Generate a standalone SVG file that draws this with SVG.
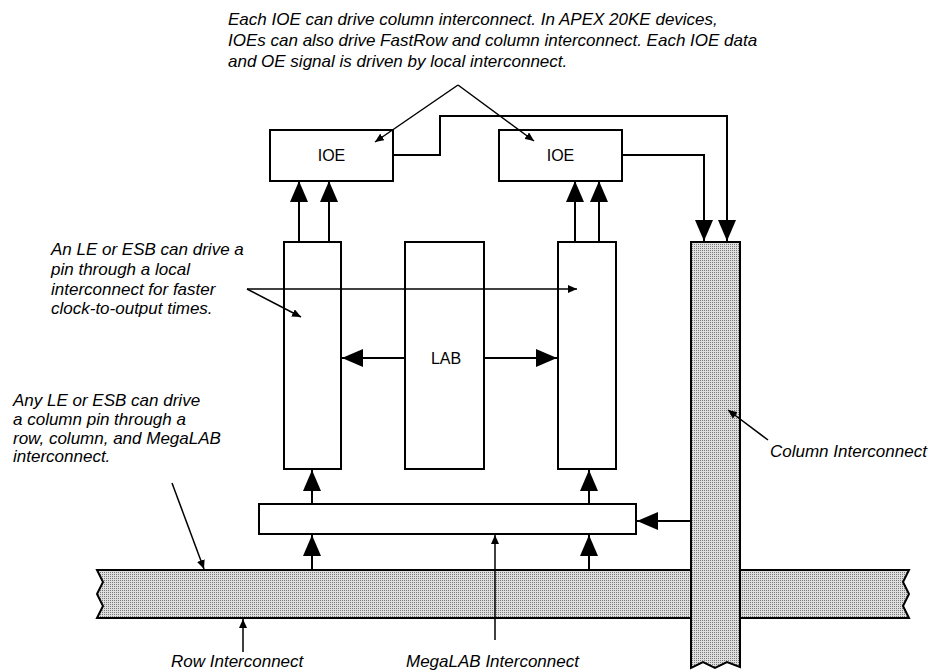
<svg xmlns="http://www.w3.org/2000/svg" width="935" height="671" viewBox="0 0 935 671">
<style>
.box{fill:#fff;stroke:#000;stroke-width:2}
.shade{fill:url(#dots);stroke:#000;stroke-width:2}
.conn{fill:none;stroke:#000;stroke-width:2}
.lead{fill:none;stroke:#000;stroke-width:1.5}
.note{font-family:"Liberation Sans",Arial,sans-serif;font-style:italic;font-size:17px;fill:#000}
.lbl{font-family:"Liberation Sans",Arial,sans-serif;font-size:16px;fill:#000;text-anchor:middle}
</style>
<defs>
<pattern id="dots" width="2" height="2" patternUnits="userSpaceOnUse">
<rect width="2" height="2" fill="#dedede"/>
<rect width="1" height="1" fill="#7a7a7a"/>
</pattern>
<marker id="big" markerUnits="userSpaceOnUse" markerWidth="22" markerHeight="18" viewBox="0 0 22 18" refX="21" refY="9" orient="auto">
<path d="M0,0 L21,9 L0,18 Z" fill="#000"/>
</marker>
<marker id="small" markerUnits="userSpaceOnUse" markerWidth="10" markerHeight="8" viewBox="0 0 10 8" refX="9" refY="4" orient="auto">
<path d="M0,0 L9,4 L0,8 Z" fill="#000"/>
</marker>
</defs>

<g id="row-interconnect">
<path class="shade" d="M97,570 H909 L903,582 L909,594 L903,606 L909,618 H97 L103,606 L97,594 L103,582 Z"/>
</g>

<g id="column-interconnect">
<path class="shade" d="M691,242 H740 V667 L727,662 L715,668 L703,662 L691,668 Z"/>
</g>

<g id="ioe-left">
<rect class="box" x="270" y="130" width="123" height="51"/>
<text class="lbl" x="331.5" y="161">IOE</text>
</g>
<g id="ioe-right">
<rect class="box" x="499" y="130" width="123" height="51"/>
<text class="lbl" x="560.5" y="161">IOE</text>
</g>
<g id="le-left">
<rect class="box" x="284" y="242" width="57" height="227"/>
</g>
<g id="lab">
<rect class="box" x="405" y="242" width="79" height="227"/>
<text class="lbl" x="446" y="364">LAB</text>
</g>
<g id="le-right">
<rect class="box" x="558" y="242" width="58" height="227"/>
</g>
<g id="megalab">
<rect class="box" x="259" y="504" width="377" height="30"/>
</g>

<g id="connectors">
<path class="conn" d="M393,155 H440 V116 H727 V241" marker-end="url(#big)"/>
<path class="conn" d="M622,155 H704 V241" marker-end="url(#big)"/>
<line class="conn" x1="299" y1="242" x2="299" y2="181" marker-end="url(#big)"/>
<line class="conn" x1="329" y1="242" x2="329" y2="181" marker-end="url(#big)"/>
<line class="conn" x1="575" y1="242" x2="575" y2="181" marker-end="url(#big)"/>
<line class="conn" x1="599" y1="242" x2="599" y2="181" marker-end="url(#big)"/>
<line class="conn" x1="405" y1="358" x2="342" y2="358" marker-end="url(#big)"/>
<line class="conn" x1="484" y1="358" x2="557" y2="358" marker-end="url(#big)"/>
<line class="conn" x1="312" y1="504" x2="312" y2="470" marker-end="url(#big)"/>
<line class="conn" x1="589" y1="504" x2="589" y2="470" marker-end="url(#big)"/>
<line class="conn" x1="312" y1="570" x2="312" y2="535" marker-end="url(#big)"/>
<line class="conn" x1="589" y1="570" x2="589" y2="535" marker-end="url(#big)"/>
<line class="conn" x1="691" y1="521" x2="637" y2="521" marker-end="url(#big)"/>
</g>

<g id="annotations">
<text class="note" x="228" y="25">Each IOE can drive column interconnect. In APEX 20KE devices,</text>
<text class="note" x="228" y="46">IOEs can also drive FastRow and column interconnect. Each IOE data</text>
<text class="note" x="228" y="67">and OE signal is driven by local interconnect.</text>
<path class="lead" d="M458,85 L375,142" marker-end="url(#small)"/>
<path class="lead" d="M458,85 L534,141" marker-end="url(#small)"/>

<text class="note" x="51" y="255">An LE or ESB can drive a</text>
<text class="note" x="51" y="275">pin through a local</text>
<text class="note" x="51" y="295">interconnect for faster</text>
<text class="note" x="51" y="314">clock-to-output times.</text>
<path class="lead" d="M247,289 H577" marker-end="url(#small)"/>
<path class="lead" d="M247,289 L301,317" marker-end="url(#small)"/>

<text class="note" x="13" y="406">Any LE or ESB can drive</text>
<text class="note" x="13" y="425">a column pin through a</text>
<text class="note" x="13" y="444">row, column, and MegaLAB</text>
<text class="note" x="13" y="462">interconnect.</text>
<path class="lead" d="M172,483 L204,569" marker-end="url(#small)"/>

<text class="note" x="770" y="457">Column Interconnect</text>
<path class="lead" d="M768,440 L728,410" marker-end="url(#small)"/>

<text class="note" x="171" y="667">Row Interconnect</text>
<path class="lead" d="M243,652 V619" marker-end="url(#small)"/>

<text class="note" x="406" y="667">MegaLAB Interconnect</text>
<path class="lead" d="M495,640 V535" marker-end="url(#small)"/>
</g>
</svg>
